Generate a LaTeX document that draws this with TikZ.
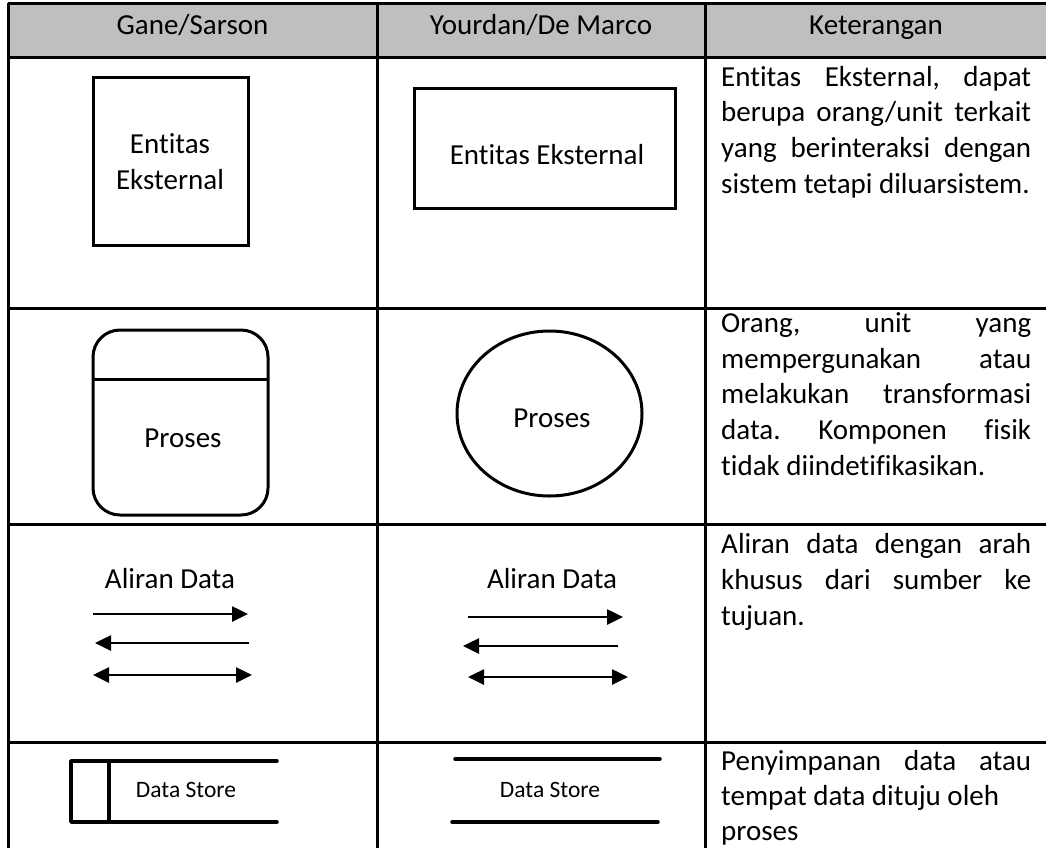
\documentclass[tikz,border=0pt]{standalone}
\usepackage{fontspec}
\setmainfont{Carlito}[Ligatures={NoCommon,NoContextual}]
\usetikzlibrary{arrows.meta,shapes.geometric}
\definecolor{headgray}{HTML}{BFBFBF}
\frenchspacing
\newcommand{\bodyfont}{\fontsize{29}{36}\selectfont}
\newcommand{\storefont}{\fontsize{23.5}{28}\selectfont}
\newlength{\desccol}
\setlength{\desccol}{310pt}
% one justified line of the description column
\newcommand{\jline}[1]{\makebox[\desccol][s]{#1}}

\begin{document}
\begin{tikzpicture}[x=1pt,y=-1pt,
  gridline/.style={line width=3pt},
  symbolbox/.style={draw, line width=3pt, inner sep=0pt, outer sep=0pt},
  label/.style={inner sep=0pt, font=\bodyfont, anchor=base},
  storelabel/.style={inner sep=0pt, font=\storefont, anchor=base},
  desc/.style={inner sep=0pt, font=\bodyfont, anchor=base west},
  flowline/.style={line width=2.6pt},
  tip/.tip={Triangle[length=16pt,width=15pt]},
  storeline/.style={line width=3.5pt, line cap=round}
]
\useasboundingbox (0,0) rectangle (1046,847);

% header band and table rules
\fill[headgray] (8,3) rectangle (1046,57);
\draw[gridline] (8,3) -- (1046,3);
\foreach \yy in {57,308,524,742}
  \draw[gridline] (8,\yy) -- (1046,\yy);
\foreach \xx in {8,377,705}
  \draw[gridline] (\xx,3) -- (\xx,850);

% column headings
\node[label] (h1) at (192.5,34) {Gane/Sarson};
\node[label] (h2) at (541,34) {Yourdan/De Marco};
\node[label] (h3) at (876,34) {Keterangan};

% row 1: external entity
\node[symbolbox, minimum width=155pt, minimum height=168pt] (gent) at (170.5,161) {};
\node[label] (gentA) at (170,153) {Entitas};
\node[label] (gentB) at (170,189) {Eksternal};
\node[symbolbox, minimum width=261pt, minimum height=120pt] (yent) at (544.5,148) {};
\node[label] (yentA) at (547,164) {Entitas Eksternal};

% row 2: process
\node[symbolbox, rounded corners=27pt, minimum width=175pt, minimum height=185pt] (gproc) at (180.5,422.5) {};
\coordinate (gdiv) at (0,379);
\draw[line width=3pt] (gproc.west |- gdiv) -- (gproc.east |- gdiv);
\node[label] (gprocT) at (183,447) {Proses};
\node[symbolbox, ellipse, minimum width=185pt, minimum height=165pt] (yproc) at (549.5,413.5) {};
\node[label] (yprocT) at (552,427) {Proses};

% row 3: data flow
\node[label] (gflow) at (170,588) {Aliran Data};
\coordinate (ga1) at (93,614);  \coordinate (gb1) at (248,614);
\coordinate (ga2) at (95,643);  \coordinate (gb2) at (249,643);
\coordinate (ga3) at (93,675);  \coordinate (gb3) at (252,675);
\draw[flowline,-tip] (ga1) -- (gb1);
\draw[flowline,tip-] (ga2) -- (gb2);
\draw[flowline,tip-tip] (ga3) -- (gb3);

\node[label] (yflow) at (552,588) {Aliran Data};
\coordinate (ya1) at (468,617); \coordinate (yb1) at (623,617);
\coordinate (ya2) at (463,646); \coordinate (yb2) at (618,646);
\coordinate (ya3) at (468,677); \coordinate (yb3) at (628,677);
\draw[flowline,-tip] (ya1) -- (yb1);
\draw[flowline,tip-] (ya2) -- (yb2);
\draw[flowline,tip-tip] (ya3) -- (yb3);

% row 4: data store
\draw[storeline, line join=round] (277,761) -- (71,761) -- (71,822) -- (277,822);
\draw[storeline] (109,761) -- (109,822);
\node[storelabel] (gstore) at (186,797) {Data Store};
\draw[storeline] (455,759) -- (660,759);
\draw[storeline] (452,822) -- (658,822);
\node[storelabel] (ystore) at (550,797) {Data Store};

% description column
\node[desc] (d1a) at (721,86)  {\jline{Entitas Eksternal, dapat}};
\node[desc] (d1b) at (721,121) {\jline{berupa orang/unit terkait}};
\node[desc] (d1c) at (721,157) {\jline{yang berinteraksi dengan}};
\node[desc] (d1d) at (721,193) {sistem tetapi diluarsistem.};

\node[desc] (d2a) at (721,332) {\jline{Orang, unit yang}};
\node[desc] (d2b) at (721,368) {\jline{mempergunakan atau}};
\node[desc] (d2c) at (721,403) {\jline{melakukan transformasi}};
\node[desc] (d2d) at (721,439) {\jline{data. Komponen fisik}};
\node[desc] (d2e) at (721,475) {tidak diindetifikasikan.};

\node[desc] (d3a) at (721,553) {\jline{Aliran data dengan arah}};
\node[desc] (d3b) at (721,589) {\jline{khusus dari sumber ke}};
\node[desc] (d3c) at (721,625) {tujuan.};

\node[desc] (d4a) at (721,770) {\jline{Penyimpanan data atau}};
\node[desc] (d4b) at (721,805) {tempat data dituju oleh};
\node[desc] (d4c) at (721,840) {proses};
\end{tikzpicture}
\end{document}
